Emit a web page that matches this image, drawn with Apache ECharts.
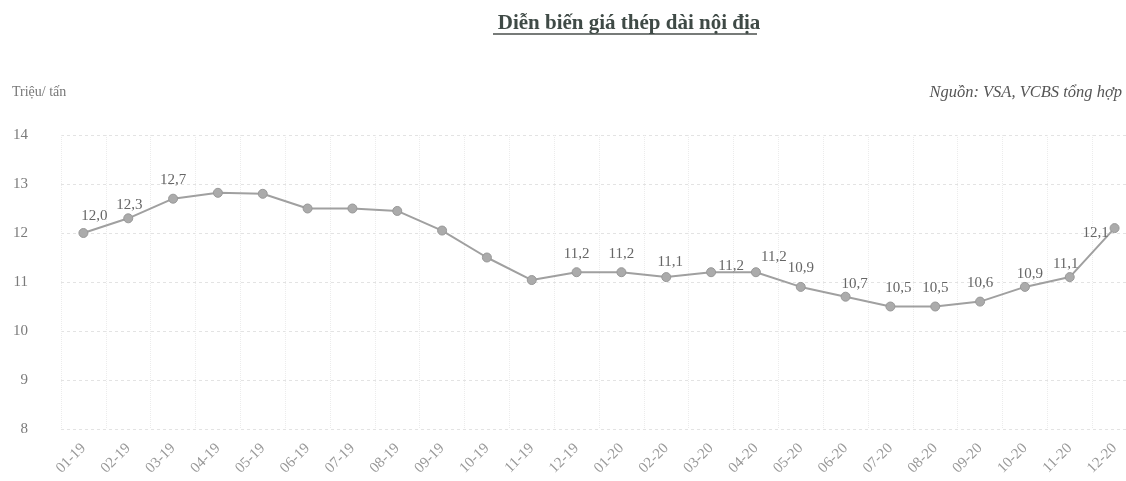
<!DOCTYPE html>
<html>
<head>
<meta charset="utf-8">
<script src="https://cdn.jsdelivr.net/npm/echarts@6/dist/echarts.min.js"></script>
<style>
  html, body { margin: 0; padding: 0; background: #fff; overflow: hidden; }
  #chart { width: 1140px; height: 481px; }
</style>
</head>
<body>
<div id="chart"></div>
<script>
// Giá thép dài nội địa theo tháng (triệu đồng/tấn)
const months = ['01-19','02-19','03-19','04-19','05-19','06-19','07-19','08-19','09-19','10-19','11-19','12-19',
                '01-20','02-20','03-20','04-20','05-20','06-20','07-20','08-20','09-20','10-20','11-20','12-20'];
const prices = [12.0, 12.3, 12.7, 12.82, 12.8, 12.5, 12.5, 12.45, 12.05, 11.5, 11.04, 11.2,
                11.2, 11.1, 11.2, 11.2, 10.9, 10.7, 10.5, 10.5, 10.6, 10.9, 11.1, 12.1];
// which months carry a value label
const labelled = [1,1,1,0,0,0,0,0,0,0,0,1, 1,1,1,1,1,1,1,1,1,1,1,1];
const yTicks = [8, 9, 10, 11, 12, 13, 14];

const serif = '"Liberation Serif", "DejaVu Serif", serif';

// label placement for crowded points
const labelOffsets = {
  0: [11, 2],
  1: [1, 5],
  13: [4, 3],
  14: [20, 12],
  15: [18, 3],
  17: [9, 6],
  18: [8, 0],
  21: [5, 6],
  22: [-4, 5],
  23: [-19, 23]
};

const seriesData = prices.map((v, i) => {
  const item = { value: v };
  if (!labelled[i]) {
    item.label = { show: false };
  } else if (labelOffsets[i]) {
    item.label = { offset: labelOffsets[i] };
  }
  return item;
});

const chart = echarts.init(document.getElementById('chart'));
chart.setOption({
  backgroundColor: '#ffffff',
  animation: false,
  title: {
    text: 'Diễn biến giá thép dài nội địa',
    left: 624,
    top: 8,
    textAlign: 'center',
    textStyle: { fontFamily: serif, fontSize: 21, fontWeight: 'bold', color: '#3f4a46' }
  },
  graphic: [
    { type: 'line', shape: { x1: 493, y1: 34, x2: 757, y2: 34 }, style: { stroke: '#4a4f4d', lineWidth: 1.3 } },
    { type: 'text', x: 12, y: 85, style: { text: 'Triệu/ tấn', font: '14px ' + serif, fill: '#777' } },
    { type: 'text', x: 1122, y: 84, style: { text: 'Nguồn: VSA, VCBS tổng hợp', font: 'italic 16.5px ' + serif, fill: '#555', align: 'right' } }
  ],
  grid: { left: 61, right: 3, top: 135, bottom: 52 },
  xAxis: {
    type: 'category',
    data: months,
    boundaryGap: true,
    axisLine: { show: false },
    axisTick: { show: false },
    splitLine: { show: true, interval: 0, lineStyle: { color: '#ececec', type: 'dotted', width: 1 } },
    axisLabel: { interval: 0, rotate: 45, margin: 17, fontFamily: serif, fontSize: 15, color: '#999' }
  },
  yAxis: {
    type: 'value',
    min: yTicks[0],
    max: yTicks[yTicks.length - 1],
    interval: 1,
    axisLine: { show: false },
    axisTick: { show: false },
    splitLine: { lineStyle: { color: '#e3e3e3', type: [3, 3], width: 1 } },
    axisLabel: { margin: 33, fontFamily: serif, fontSize: 15, color: '#7a7a7a' }
  },
  series: [{
    type: 'line',
    data: seriesData,
    symbol: 'circle',
    symbolSize: 9,
    lineStyle: { color: '#a0a0a0', width: 2 },
    itemStyle: { color: '#ababab', borderColor: '#999', borderWidth: 1 },
    label: {
      show: true,
      position: 'top',
      distance: 6,
      fontFamily: serif,
      fontSize: 15,
      color: '#666',
      formatter: p => p.value.toFixed(1).replace('.', ',')
    }
  }]
});
</script>
</body>
</html>
